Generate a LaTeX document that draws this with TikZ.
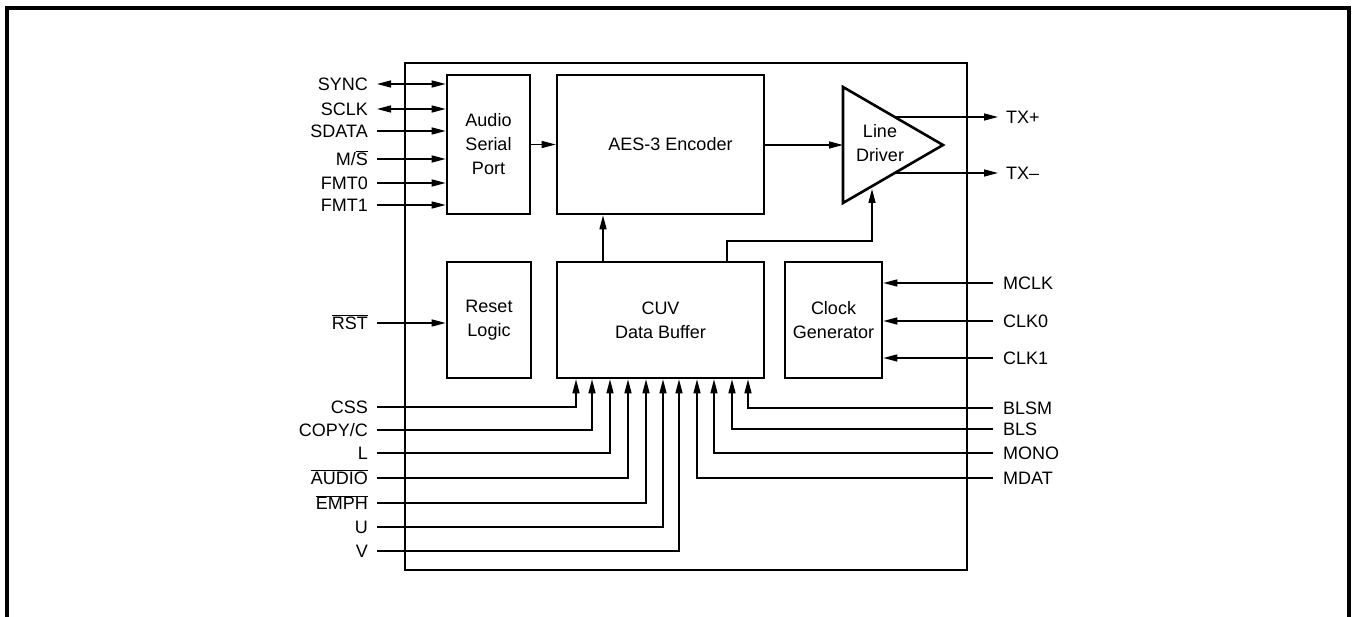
\documentclass[tikz,border=0pt]{standalone}
\usepackage{fontspec}
\setmainfont{Liberation Sans}
\usetikzlibrary{arrows.meta,positioning,calc}
\newcommand{\barsig}[1]{$\overline{\mbox{#1}}$}

\begin{document}
\begin{tikzpicture}[x=1pt,y=-1pt,
  font=\fontsize{18}{24}\selectfont,
  block/.style={draw,line width=2.6pt,align=center,inner sep=0pt},
  sig/.style={line width=1.4pt},
  arrow/.style={sig,-{Triangle[length=14pt,width=7pt]}},
  biarrow/.style={sig,{Triangle[length=14pt,width=7pt]}-{Triangle[length=14pt,width=7pt]}},
  pinL/.style={anchor=east,inner xsep=9pt,inner ysep=0pt,text height=13pt,text depth=0pt},
  pinR/.style={anchor=west,inner xsep=10pt,inner ysep=0pt,text height=13pt,text depth=0pt}
]
  \useasboundingbox (0,0) rectangle (1358,617);
  \draw[line width=3.5pt] (7,617) -- (7,8) -- (1349,8) -- (1349,617);

  % chip outline and blocks
  \node[draw,line width=2.8pt,minimum width=562,minimum height=507] (chip) at (686,316.5) {};
  \node[block,minimum width=83,minimum height=139] (asp) at (488.5,144.5) {Audio\\Serial\\Port};
  \node[block,minimum width=207,minimum height=139] (aes) at (660.5,144.5) {\hspace*{20pt}AES-3 Encoder};
  \node[block,minimum width=84,minimum height=116] (reset) at (489,320) {Reset\\Logic};
  \node[block,minimum width=207,minimum height=116] (cuv) at (660.5,320) {CUV\\Data Buffer};
  \node[block,minimum width=97,minimum height=116] (clkgen) at (833.5,320) {Clock\\Generator};

  % line driver
  \coordinate (drvA) at (843,87);
  \coordinate (drvB) at (843,203);
  \coordinate (drvC) at (943,145);
  \draw[line width=2.6pt,line join=miter] (drvA) -- (drvC) -- (drvB) -- cycle;
  \node[align=center,inner sep=0pt] (drv) at (880,143) {Line\\Driver};
  \coordinate (drvin) at (843,145);
  \coordinate (drven) at (872,189);
  \coordinate (txp0) at (895,117);
  \coordinate (txm0) at (895,173);

  \draw[arrow] (asp) -- (aes);
  \draw[arrow] (aes.east |- drvin) -- (drvin);
  \draw[arrow] (cuv.north -| 603,0) -- (aes.south -| 603,0);
  \draw[arrow] (cuv.north -| 727,0) |- (drven |- 0,241) -- (drven);

  \node[pinR,inner xsep=8pt] (txp) at (998,117) {TX+};
  \node[pinR,inner xsep=8pt] (txm) at (998,173) {TX--};
  \draw[arrow] (txp0) -- (txp.west);
  \draw[arrow] (txm0) -- (txm.west);

  % serial port pins
  \foreach \pin/\txt/\y/\kind in {sync/SYNC/84/biarrow,sclk/SCLK/109/biarrow,sdata/SDATA/131/arrow,
      ms/{M/\barsig{S}}/159/arrow,fmt0/FMT0/183/arrow,fmt1/FMT1/205/arrow}{
    \node[pinL] (\pin) at (377,\y) {\txt};
    \draw[\kind] (\pin.east) -- (\pin.east -| asp.west);
  }

  \node[pinL] (rst) at (377,323) {\barsig{RST}};
  \draw[arrow] (rst.east) -- (rst.east -| reset.west);

  % clock pins
  \foreach \pin/\txt/\y in {mclk/MCLK/283,clk0/CLK0/321,clk1/CLK1/358}{
    \node[pinR] (\pin) at (993,\y) {\txt};
    \draw[arrow] (\pin.west) -- (\pin.west -| clkgen.east);
  }

  % channel status pins
  \foreach \pin/\txt/\y/\x in {css/CSS/407/576,copyc/{COPY/C}/430/592,l/L/453/610,
      audio/\barsig{AUDIO}/478/628,emph/\barsig{EMPH}/503/646,u/U/527/663,v/V/551/679}{
    \node[pinL] (\pin) at (377,\y) {\txt};
    \draw[arrow] (\pin.east) -| (cuv.south -| \x,0);
  }
  \foreach \pin/\txt/\y/\x in {blsm/BLSM/408/748,bls/BLS/429/732,mono/MONO/453/714,mdat/MDAT/478/697}{
    \node[pinR] (\pin) at (993,\y) {\txt};
    \draw[arrow] (\pin.west) -| (cuv.south -| \x,0);
  }
\end{tikzpicture}
\end{document}
